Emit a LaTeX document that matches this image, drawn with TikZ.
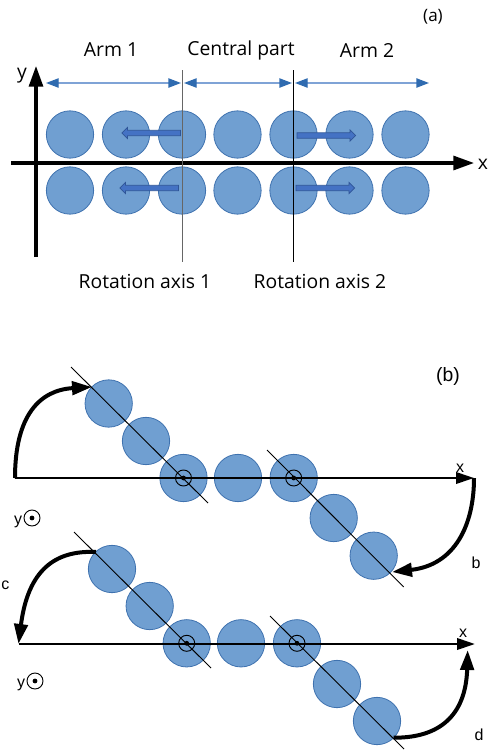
\documentclass[tikz,border=0pt]{standalone}
\usepackage{fontspec}
\setmainfont{Open Sans}
\newfontfamily\labelfont{Liberation Sans}
\usetikzlibrary{arrows.meta,shapes.arrows}
\definecolor{beadfill}{HTML}{709FD1}
\definecolor{beadline}{HTML}{3F72AF}
\definecolor{spanline}{HTML}{7FA3D6}
\definecolor{spanhead}{HTML}{2F6BB0}
\definecolor{pushfill}{HTML}{4472C4}
\definecolor{pushline}{HTML}{2F5597}
\begin{document}
\begin{tikzpicture}[x=0.75pt, y=-0.75pt,
  bead/.style={circle, draw=beadline, fill=beadfill, line width=0.6pt, minimum size=35.5pt, inner sep=0pt},
  pivot/.style={circle, draw=black, line width=0.7pt, minimum size=12pt, inner sep=0pt},
  pivotdot/.style={circle, fill=black, minimum size=3.6pt, inner sep=0pt},
  tag/.style={font=\fontsize{14.5}{14.5}\selectfont, inner sep=0pt},
  smalltag/.style={font=\labelfont\fontsize{12}{12}\selectfont, inner sep=0pt},
  axisline/.style={line width=2.3pt, -{Triangle[length=15.5pt, width=10.5pt]}},
  flatline/.style={line width=2pt, -{Triangle[length=13.5pt, width=8.5pt]}},
  swing/.style={line width=3pt, -{Triangle[length=15pt, width=10pt]}},
  hinge/.style={line width=0.7pt},
  spanarrow/.style={line width=1pt, spanline, {Triangle[length=9.5pt, width=7pt, color=spanhead]}-{Triangle[length=9.5pt, width=7pt, color=spanhead]}},
  pushleft/.style={single arrow, draw=pushline, fill=pushfill, line width=0.5pt, minimum height=44pt, single arrow head extend=2.2pt, single arrow tip angle=90, inner xsep=0pt, inner ysep=1.8pt, shape border rotate=180},
  pushright/.style={pushleft, shape border rotate=0}]
\useasboundingbox (0,0) rectangle (492,750);
\node[bead] (top1) at (70,134.5) {};
\node[bead] (top2) at (126,134.5) {};
\node[bead] (top3) at (182,134.5) {};
\node[bead] (top4) at (237.5,134.5) {};
\node[bead] (top5) at (293.5,134.5) {};
\node[bead] (top6) at (349.5,134.5) {};
\node[bead] (top7) at (405.5,134.5) {};
\node[bead] (low1) at (70,190.5) {};
\node[bead] (low2) at (126,190.5) {};
\node[bead] (low3) at (182,190.5) {};
\node[bead] (low4) at (237.5,190.5) {};
\node[bead] (low5) at (293.5,190.5) {};
\node[bead] (low6) at (349.5,190.5) {};
\node[bead] (low7) at (405.5,190.5) {};
\node[pushleft] (pushA) at (152.5,133) {};
\node[pushleft] (pushB) at (150.5,188) {};
\node[pushright] (pushC) at (325,135.5) {};
\node[pushright] (pushD) at (324,188) {};
\coordinate (xstart) at (11,163);
\coordinate (xend) at (474,163);
\coordinate (ystart) at (36,257);
\coordinate (yend) at (36,66);
\draw[axisline] (xstart) -- (xend);
\draw[axisline] (ystart) -- (yend);
\coordinate (axis1top) at (182,70);
\coordinate (axis1low) at (182,262);
\coordinate (axis2top) at (293.5,70);
\coordinate (axis2low) at (293.5,262);
\draw[hinge, black!60] (axis1top) -- (axis1low);
\draw[hinge] (axis2top) -- (axis2low);
\coordinate (span1a) at (46,83);
\coordinate (span1b) at (181,83);
\coordinate (span2a) at (184,83);
\coordinate (span2b) at (292,83);
\coordinate (span3a) at (295,83);
\coordinate (span3b) at (429,83);
\draw[spanarrow] (span1a) -- (span1b);
\draw[spanarrow] (span2a) -- (span2b);
\draw[spanarrow] (span3a) -- (span3b);
\node[tag] (arm1) at (111,50) {Arm 1};
\node[tag] (central) at (241,50) {Central part};
\node[tag] (arm2) at (367,50) {Arm 2};
\node[tag, font=\fontsize{12.8}{12.8}\selectfont] (panelA) at (433,17) {(a)};
\node[tag] (ylabel) at (22,76) {y};
\node[tag] (xlabel) at (483,164) {x};
\node[tag] (rot1) at (145,281) {Rotation axis 1};
\node[tag] (rot2) at (320,281) {Rotation axis 2};
\node[bead] (b1) at (108.7,403.5) {};
\node[bead] (b2) at (146,441) {};
\node[bead] (b3) at (183.5,478) {};
\node[bead] (b4) at (238,478) {};
\node[bead] (b5) at (293.7,478) {};
\node[bead] (b6) at (333.7,518) {};
\node[bead] (b7) at (373.7,555.7) {};
\coordinate (blineAa) at (71,367);
\coordinate (blineAb) at (208,503);
\coordinate (blineBa) at (267,450);
\coordinate (blineBb) at (403.7,587);
\draw[hinge] (blineAa) -- (blineAb);
\draw[hinge] (blineBa) -- (blineBb);
\coordinate (bxstart) at (15,478);
\coordinate (bxend) at (474,478);
\draw[flatline] (bxstart) -- (bxend);
\node[pivot] (bpivot1) at (b3) {};
\node[pivotdot] (bdot1) at (b3) {};
\node[pivot] (bpivot2) at (b5) {};
\node[pivotdot] (bdot2) at (b5) {};
\coordinate (bswingA) at (92,387);
\coordinate (bswingB) at (392,572);
\draw[swing] (bxstart) .. controls (15,415) and (40,390) .. (bswingA);
\draw[swing] (bxend) .. controls (474,525) and (455,565) .. (bswingB);
\node[pivot] (bysign) at (32,518) {};
\node[pivotdot] (bydot) at (bysign) {};
\node[smalltag] (by) at (18,522) {y};
\node[smalltag] (bx) at (460,468) {x};
\node[smalltag] (bb) at (476,563) {b};
\node[tag, font=\labelfont\fontsize{14.5}{14.5}\selectfont] (panelB) at (448,376) {(b)};
\node[bead] (c1) at (112,569) {};
\node[bead] (c2) at (149.7,606) {};
\node[bead] (c3) at (186.7,643.3) {};
\node[bead] (c4) at (241,643.3) {};
\node[bead] (c5) at (297,643.3) {};
\node[bead] (c6) at (337,684) {};
\node[bead] (c7) at (377,721) {};
\coordinate (clineAa) at (74,532);
\coordinate (clineAb) at (211,668);
\coordinate (clineBa) at (270,616);
\coordinate (clineBb) at (404,749);
\draw[hinge] (clineAa) -- (clineAb);
\draw[hinge] (clineBa) -- (clineBb);
\coordinate (cxstart) at (18.5,644);
\coordinate (cxend) at (475,644);
\draw[flatline] (cxstart) -- (cxend);
\node[pivot] (cpivot1) at (c3) {};
\node[pivotdot] (cdot1) at (c3) {};
\node[pivot] (cpivot2) at (c5) {};
\node[pivotdot] (cdot2) at (c5) {};
\coordinate (cswingA) at (96,552);
\coordinate (cswingB) at (393.7,737.7);
\coordinate (cswingC) at (467.7,650);
\draw[swing] (cswingA) .. controls (55,550) and (28,570) .. (cxstart);
\draw[swing] (cswingB) .. controls (445,738) and (466,710) .. (cswingC);
\node[pivot] (cysign) at (35,681) {};
\node[pivotdot] (cydot) at (cysign) {};
\node[smalltag] (cy) at (21,685) {y};
\node[smalltag, anchor=west] (cc) at (1,585) {c};
\node[smalltag] (cx) at (463,633) {x};
\node[smalltag] (dd) at (479,735) {d};
\end{tikzpicture}
\end{document}
